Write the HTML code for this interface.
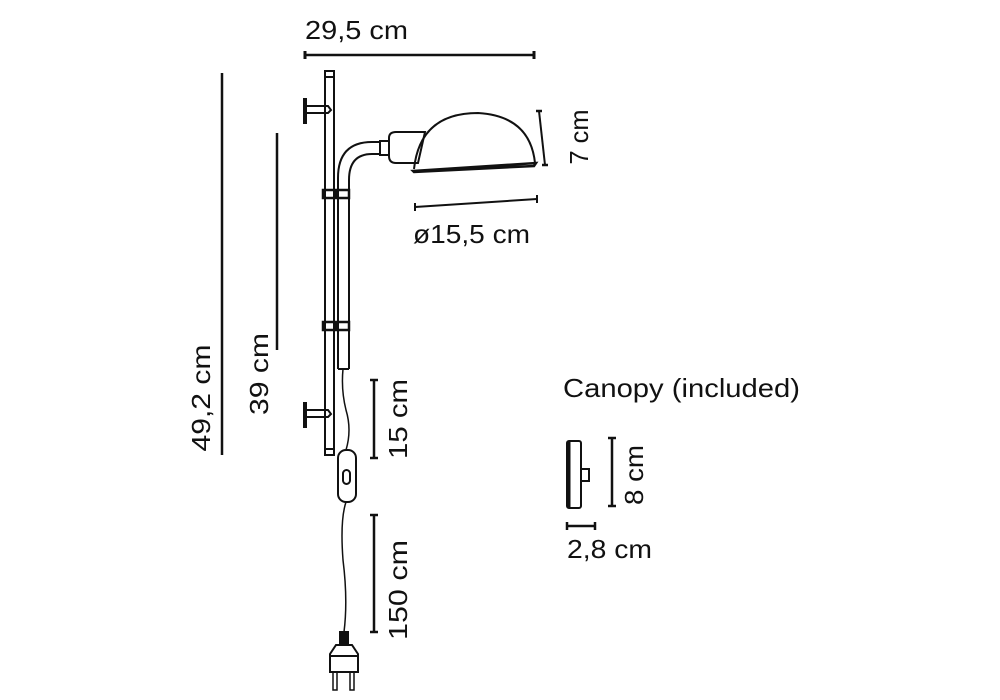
<!DOCTYPE html>
<html><head><style>
html,body{margin:0;padding:0;background:#fff;}
svg{display:block;}
text{font-family:"Liberation Sans",sans-serif;fill:#111;}
</style></head><body>
<svg width="1000" height="700" viewBox="0 0 1000 700" xmlns="http://www.w3.org/2000/svg">
<g stroke="#111" fill="none" stroke-width="2">
<line x1="304" y1="55" x2="535" y2="55" stroke-width="2.5"/>
<line x1="305" y1="51" x2="305" y2="59" stroke-width="3"/>
<line x1="534" y1="51" x2="534" y2="59" stroke-width="3"/>
<line x1="222" y1="73" x2="222" y2="455" stroke-width="2.5"/>
<line x1="277" y1="133" x2="277" y2="350" stroke-width="2.5"/>
<rect x="325" y="71" width="9" height="384" stroke-width="2"/>
<line x1="325" y1="77" x2="334" y2="77"/>
<line x1="325" y1="449" x2="334" y2="449"/>
<line x1="305" y1="98" x2="305" y2="124" stroke-width="4"/>
<path d="M307 106 H328 L331 110 L328 113 H307"/>
<line x1="305" y1="402" x2="305" y2="428" stroke-width="4"/>
<path d="M307 410 H328 L331 414 L328 417 H307"/>
<path d="M338 369 V178 Q338 142 372 142 H380"/>
<path d="M349 369 V180 Q349 154 372 154 H380"/>
<line x1="338" y1="369" x2="349" y2="369"/>
<rect x="380" y="141" width="9" height="14"/>
<path d="M389 138 Q389 132 396 132 H425 L418 163 H396 Q389 163 389 156 Z"/>
<path d="M414 169 Q420 113 478 113 Q530 116 535 163"/>
<path d="M413 171 L536 163 L534 166 L414 172 Z" stroke-width="2.5"/>
<rect x="323" y="190" width="26" height="8" stroke-width="2.5"/>
<line x1="336" y1="190" x2="336" y2="198"/>
<rect x="323" y="322" width="26" height="8" stroke-width="2.5"/>
<line x1="336" y1="322" x2="336" y2="330"/>
<line x1="539" y1="111" x2="545" y2="165" stroke-width="2"/>
<line x1="536" y1="111" x2="542" y2="111" stroke-width="2.5"/>
<line x1="542" y1="165" x2="548" y2="165" stroke-width="2.5"/>
<line x1="415" y1="207" x2="537" y2="199" stroke-width="2"/>
<line x1="415" y1="203" x2="415" y2="211"/>
<line x1="537" y1="195" x2="537" y2="203"/>
<path d="M343 369 Q341 390 346 410 Q352 430 346 450" stroke-width="1.5"/>
<rect x="338" y="450" width="18" height="52" rx="8"/>
<rect x="343" y="470" width="7" height="14" rx="3.5" stroke-width="2"/>
<path d="M346 502 Q340 520 343 560 Q348 600 344 632" stroke-width="1.5"/>
<rect x="340" y="632" width="8" height="13" fill="#111"/>
<path d="M336 645 H352 L358 654 V672 H330 V654 Z" stroke-width="2"/>
<line x1="330" y1="656" x2="358" y2="656"/>
<rect x="333" y="672" width="4" height="18" stroke-width="1.5"/>
<rect x="350" y="672" width="4" height="18" stroke-width="1.5"/>
<line x1="374" y1="380" x2="374" y2="458" stroke-width="2.5"/>
<line x1="370" y1="380" x2="378" y2="380" stroke-width="2.5"/>
<line x1="370" y1="458" x2="378" y2="458" stroke-width="2.5"/>
<line x1="374" y1="515" x2="374" y2="632" stroke-width="2.5"/>
<line x1="370" y1="515" x2="378" y2="515" stroke-width="2.5"/>
<line x1="370" y1="632" x2="378" y2="632" stroke-width="2.5"/>
<rect x="567" y="441" width="14" height="67" rx="2"/>
<line x1="569" y1="441" x2="569" y2="508" stroke-width="3"/>
<rect x="581" y="469" width="8" height="12"/>
<line x1="612" y1="438" x2="612" y2="506" stroke-width="2.5"/>
<line x1="608" y1="438" x2="616" y2="438" stroke-width="2.5"/>
<line x1="608" y1="506" x2="616" y2="506" stroke-width="2.5"/>
<line x1="566" y1="526" x2="596" y2="526" stroke-width="2.5"/>
<line x1="567" y1="522" x2="567" y2="530" stroke-width="2.5"/>
<line x1="595" y1="522" x2="595" y2="530" stroke-width="2.5"/>
</g>
<g font-size="26">
<text x="305" y="39" textLength="103" lengthAdjust="spacingAndGlyphs">29,5 cm</text>
<text x="413" y="243" textLength="117" lengthAdjust="spacingAndGlyphs">ø15,5 cm</text>
<text x="563" y="397" textLength="237" lengthAdjust="spacingAndGlyphs">Canopy (included)</text>
<text x="567" y="558" textLength="85" lengthAdjust="spacingAndGlyphs">2,8 cm</text>
<text transform="translate(210,398) rotate(-90)" text-anchor="middle" textLength="107" lengthAdjust="spacingAndGlyphs">49,2 cm</text>
<text transform="translate(268,374) rotate(-90)" text-anchor="middle" textLength="82" lengthAdjust="spacingAndGlyphs">39 cm</text>
<text transform="translate(407,419) rotate(-90)" text-anchor="middle" textLength="80" lengthAdjust="spacingAndGlyphs">15 cm</text>
<text transform="translate(407,590) rotate(-90)" text-anchor="middle" textLength="100" lengthAdjust="spacingAndGlyphs">150 cm</text>
<text transform="translate(588,137) rotate(-90)" text-anchor="middle" textLength="55" lengthAdjust="spacingAndGlyphs">7 cm</text>
<text transform="translate(643,475) rotate(-90)" text-anchor="middle" textLength="60" lengthAdjust="spacingAndGlyphs">8 cm</text>
</g>
</svg>
</body></html>
